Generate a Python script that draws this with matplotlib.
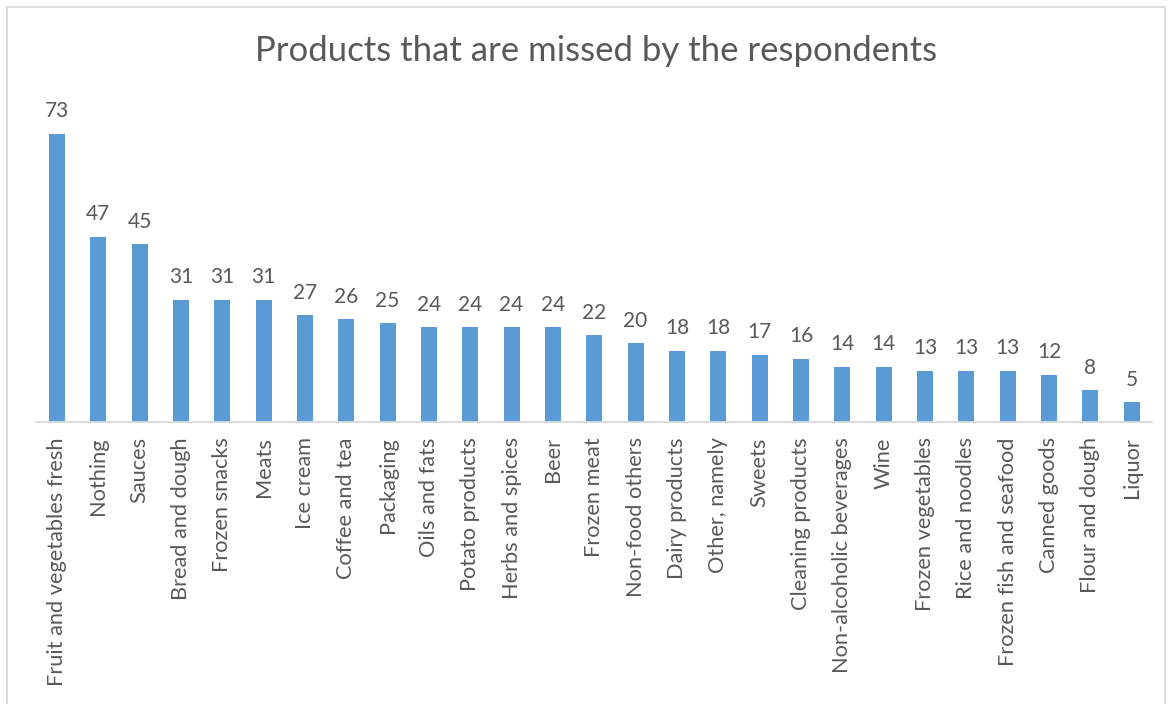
import matplotlib
matplotlib.use("Agg")
import matplotlib.pyplot as plt
from matplotlib.patches import Rectangle

# products and number of respondents missing them
products = [
    "Fruit and vegetables fresh", "Nothing", "Sauces", "Bread and dough",
    "Frozen snacks", "Meats", "Ice cream", "Coffee and tea", "Packaging",
    "Oils and fats", "Potato products", "Herbs and spices", "Beer",
    "Frozen meat", "Non-food others", "Dairy products", "Other, namely",
    "Sweets", "Cleaning products", "Non-alcoholic beverages", "Wine",
    "Frozen vegetables", "Rice and noodles", "Frozen fish and seafood",
    "Canned goods", "Flour and dough", "Liquor",
]
counts = [73, 47, 45, 31, 31, 31, 27, 26, 25, 24, 24, 24, 24, 22, 20, 18, 18,
          17, 16, 14, 14, 13, 13, 13, 12, 8, 5]

plt.rcParams["font.family"] = ["Lato", "DejaVu Sans"]
txt = "#595959"

fig = plt.figure(figsize=(11.71, 7.04), dpi=100)
ax = fig.add_axes([0.031, 0.4006, 0.953, 0.4484])

x = range(len(products))
bars = ax.bar(x, counts, width=0.39, color="#5B9BD5")

for b, v in zip(bars, counts):
    ax.annotate(str(v), (b.get_x() + b.get_width() / 2, v),
                xytext=(0, 9), textcoords="offset points",
                ha="center", va="bottom", fontsize=15, color=txt)

ax.set_xlim(-0.5, len(products) - 0.5)
ax.set_ylim(0, 80)
ax.set_xticks(list(x))
ax.set_xticklabels(products, rotation=90, fontsize=15.7, color=txt)
ax.tick_params(axis="x", length=0, pad=11)
ax.set_yticks([])
for s in ["top", "right", "left"]:
    ax.spines[s].set_visible(False)
ax.spines["bottom"].set_color("#D9D9D9")
ax.spines["bottom"].set_linewidth(1.3)

fig.text(0.509, 0.927, "Products that are missed by the respondents",
         ha="center", va="center", fontsize=25, color=txt)

# chart border
fig.patches.append(Rectangle((7 / 1171, -0.01), 1158 / 1171, 0.9999,
                             transform=fig.transFigure, fill=False,
                             edgecolor="#D9D9D9", linewidth=1.3))

fig.savefig("out.png", dpi=100)
